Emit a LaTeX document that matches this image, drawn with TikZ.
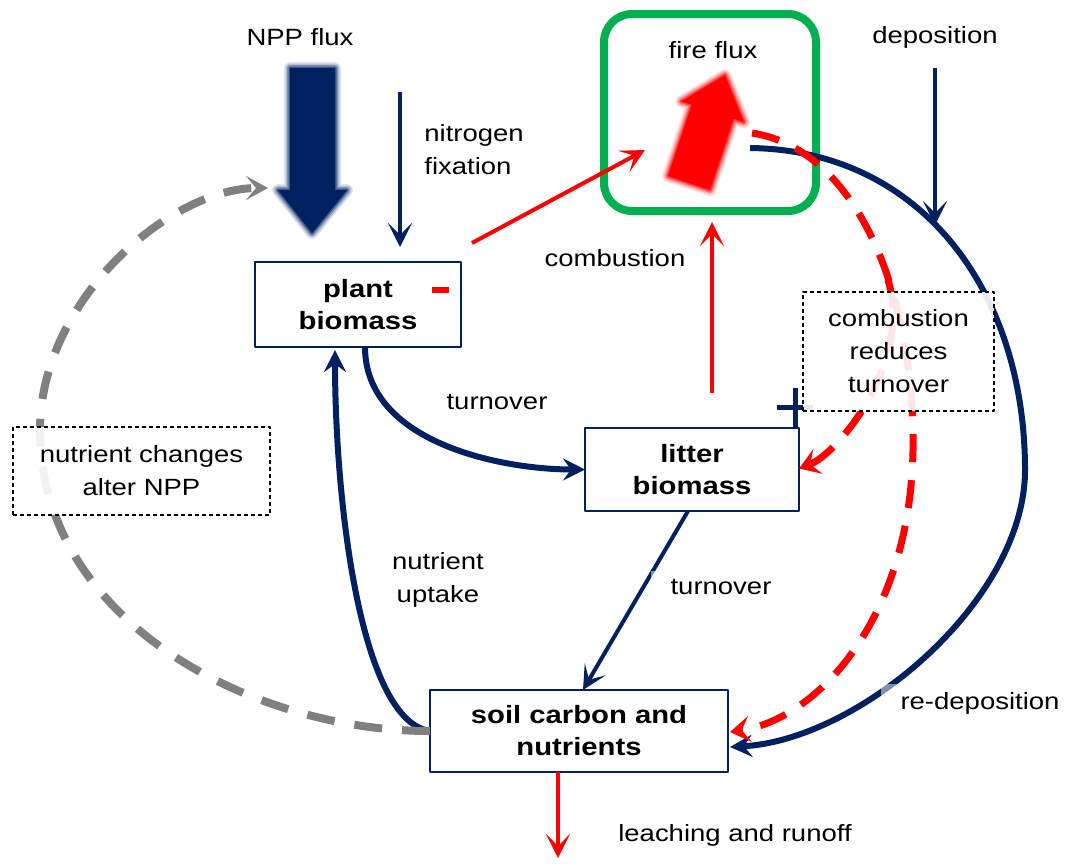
\documentclass[tikz,border=0pt]{standalone}
\usepackage{fontspec}
\setmainfont{Liberation Sans}[FakeStretch=1.17]
\usetikzlibrary{arrows.meta,positioning,calc}
\definecolor{navy}{RGB}{0,32,96}
\definecolor{firegreen}{RGB}{0,176,80}
\definecolor{fluxgrey}{RGB}{128,128,128}
\tikzset{
  pool/.style={draw=navy, line width=0.75pt, fill=white, align=center, inner sep=0pt, outer sep=0pt,
    font=\fontsize{12.5}{16}\selectfont\bfseries},
  firebox/.style={draw=firegreen, line width=4pt, rounded corners=14pt, inner sep=0pt, outer sep=0pt},
  note/.style={draw=black, dash pattern=on 2pt off 1.5pt, line width=0.6pt, fill=white, fill opacity=0.9,
    text opacity=1, align=center, inner sep=0pt},
  lbl/.style={align=center, inner sep=1pt},
  backed/.style={fill=white, fill opacity=0.5, text opacity=1, inner xsep=10pt, inner ysep=4pt},
  flow/.style={navy, line width=3pt, -{Stealth[length=11pt,width=11pt,inset=4pt]}},
  thin flow/.style={navy, line width=2pt, -{Stealth[length=12pt,width=12pt,inset=6pt]}},
  fire flow/.style={red, line width=2pt, -{Stealth[length=12pt,width=12pt,inset=6pt]}},
  fire effect/.style={red, line width=3.5pt, dash pattern=on 14pt off 9pt, -{Stealth[length=10pt,width=13pt,inset=4pt]}},
  npp effect/.style={fluxgrey, line width=4pt, dash pattern=on 14pt off 10pt, -{Stealth[length=11pt,width=12pt,inset=5pt]}},
}
\begin{document}
\begin{tikzpicture}[x=0.5pt, y=-0.5pt, line join=round, font=\fontsize{11.75}{16.5}\selectfont]
\useasboundingbox (0,0) rectangle (1068,863);

% pools
\node[pool, minimum width=103pt, minimum height=42.5pt] (plant) at (358,304.5) {plant\\biomass};
\node[pool, minimum width=107pt, minimum height=41.5pt] (litter) at (692,469.5) {litter\\biomass};
\node[pool, minimum width=149pt, minimum height=41pt] (soil) at (579,731) {soil carbon and\\nutrients};
\node[firebox, minimum width=106pt, minimum height=98.5pt] (fire) at (710,112.5) {};

% free ends
\foreach \name/\x/\y in {
  nfix/400/92, dep/935/68, deptip/935/225, runoff/558/858,
  fireout/752/133, redep/750/148, redepright/1025/470,
  redsplit/888/280, redmid/913/450, nppleft/40/430, nppin/268/188
}{
  \coordinate (\name) at (\x,\y);
}

% big flux arrows
\foreach \name/\x/\y in {
  n1/290/68, n2/335/68, n3/335/190, n4/347/190, n5/312/233, n6/278/190, n7/290/190,
  f1/668/176, f2/710/190, f3/733.6/118.8, f4/744/122.2, f5/725/75, f6/681.4/101.4, f7/691.8/104.8
}{
  \coordinate (\name) at (\x,\y);
}
\foreach \w/\o in {6/0.12, 4.5/0.18, 3/0.3, 1.5/0.5}{
  \draw[navy, line width=\w pt, opacity=\o] (n1)--(n2)--(n3)--(n4)--(n5)--(n6)--(n7)--cycle;
  \draw[red, line width=\w pt, opacity=\o] (f1)--(f2)--(f3)--(f4)--(f5)--(f6)--(f7)--cycle;
}
\fill[navy] (n1)--(n2)--(n3)--(n4)--(n5)--(n6)--(n7)--cycle;
\fill[red] (f1)--(f2)--(f3)--(f4)--(f5)--(f6)--(f7)--cycle;

% fluxes
\draw[thin flow] (nfix) -- ($(plant.north)+(42,-15)$);
\draw[thin flow] (dep) -- (deptip);
\draw[flow] ($(plant.south)+(7,0)$) .. controls +(0,95) and +(-85,0) .. (litter.west);
\draw[flow] (soil.west) .. controls +(-70,-10) and +(0,150) .. ($(plant.south)+(-23,3)$);
\draw[thin flow] ($(litter.south)+(-4,0)$) -- ($(soil.north)+(4,0)$);
\draw[flow] (redep) .. controls +(170,2) and +(0,-180) .. (redepright)
  .. controls +(0,130) and +(130,-7) .. ($(soil.east)+(2,16)$);
\draw[fire flow] ($(plant.north east)+(11,-19)$) -- ($(fire.west)+(41,37.5)$);
\draw[fire flow] ($(litter.north)+(20,-35)$) -- ($(fire.south)+(2,11)$);
\draw[fire flow] ($(soil.south)+(-21,0)$) -- (runoff);

% feedbacks
\draw[fire effect] (fireout) .. controls +(108,17) and +(2,-150) .. (redmid)
  .. controls +(-3,170) and +(87,-13) .. ($(soil.east)+(2,1)$);
\draw[fire effect] (redsplit) .. controls +(25,80) and +(40,-15) .. ($(litter.east)+(0,-1)$);
\draw[npp effect] (soil.west) .. controls +(-180,0) and +(0,190) .. (nppleft)
  .. controls +(0,-130) and +(-98,0) .. (nppin);

% signs
\draw[red, line width=3pt] (432,290) -- (449,290);
\draw[navy, line width=2.5pt] (795,388) -- (795,428) (777,407) -- (813,407);

% notes
\node[note, minimum width=95.5pt, minimum height=59.5pt] (reduce) at (898.5,351.5) {combustion\\reduces\\turnover};
\node[note, minimum width=128.5pt, minimum height=44pt] (alter) at (141.5,471) {nutrient changes\\alter NPP};

% labels
\node[lbl] (npplbl) at (300,37) {NPP flux};
\node[lbl, anchor=west, align=left] (nfixlbl) at (422,150) {nitrogen\\fixation};
\node[lbl] (firelbl) at (713,50) {fire flux};
\node[lbl] (deplbl) at (935,37) {deposition};
\node[lbl] (comblbl) at (615,258) {combustion};
\node[lbl] (turn1) at (497,402) {turnover};
\node[lbl] (uptake) at (438,580) {nutrient\\uptake};
\node[lbl, backed] (turn2) at (721,587) {turnover};
\node[lbl, backed] (redeplbl) at (980,703) {re-deposition};
\node[lbl] (leach) at (735,835) {leaching and runoff};
\end{tikzpicture}
\end{document}
